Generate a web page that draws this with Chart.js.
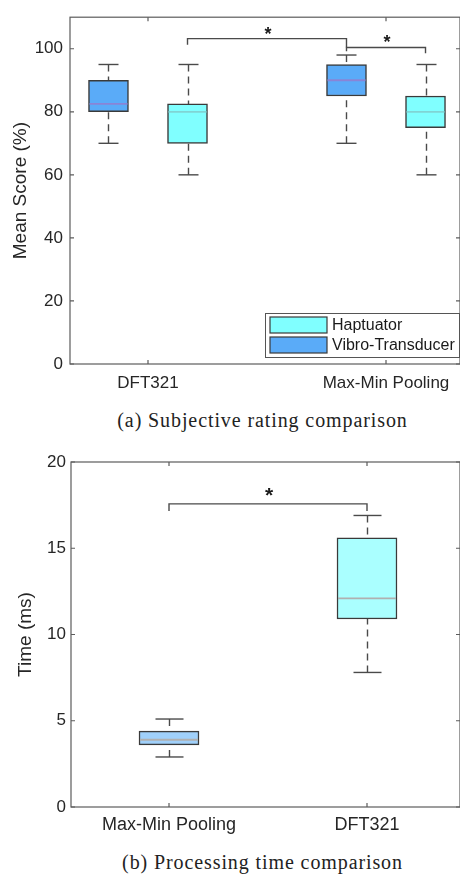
<!DOCTYPE html>
<html><head><meta charset="utf-8">
<script src="https://cdn.jsdelivr.net/npm/chart.js@4.4.1/dist/chart.umd.min.js"></script>
<style>
html,body{margin:0;padding:0;background:#fff;}
body{width:460px;height:875px;position:relative;overflow:hidden;}
.wrap{position:absolute;left:0;width:460px;}
.cap{position:absolute;left:0;width:525px;text-align:center;font-family:"Liberation Serif","Times New Roman",serif;font-size:20px;line-height:24px;color:#222;letter-spacing:0.9px;white-space:nowrap;}
</style></head>
<body>
<div class="wrap" style="top:0;height:400px"><canvas id="c1" width="460" height="400"></canvas></div>
<div class="cap" style="top:408px">(a) Subjective rating comparison</div>
<div class="wrap" style="top:440px;height:410px"><canvas id="c2" width="460" height="410"></canvas></div>
<div class="cap" style="top:850px">(b) Processing time comparison</div>
<script>
// ---------- data ----------
const ratingCategories = ['DFT321', 'Max-Min Pooling'];
const seriesNames = ['Haptuator', 'Vibro-Transducer'];
const hapLow = [60, 60];
const hapQ1 = [70, 75];
const hapMedian = [80, 80];
const hapQ3 = [82.5, 85];
const hapHigh = [95, 95];
const vibLow = [70, 70];
const vibQ1 = [80, 85];
const vibMedian = [82.5, 90];
const vibQ3 = [90, 95];
const vibHigh = [95, 98];
const ratingTicks = [0, 20, 40, 60, 80, 100];
// significance brackets: level and end drops (value units)
const ratingSigLevel = [103.2, 100.4];
const ratingSigDropA = [101.3, 99.2];
const ratingSigDropB = [100.4, 98.6];

const timeCategories = ['Max-Min Pooling', 'DFT321'];
const timeLow = [2.9, 7.8];
const timeQ1 = [3.6, 10.9];
const timeMedian = [3.9, 12.1];
const timeQ3 = [4.4, 15.6];
const timeHigh = [5.1, 16.9];
const timeTicks = [0, 5, 10, 15, 20];
const timeSigLevel = [17.57];
const timeSigDropA = [17.16];
const timeSigDropB = [17.16];

// ---------- style ----------
Chart.defaults.font.family = '"Liberation Sans", Arial, sans-serif';
Chart.defaults.color = '#262626';
const HAP = '#80FFFF', VIB = '#5AABF8';
const HAP_LIGHT = '#AAFFFF', VIB_LIGHT = '#A0D0FA';
const EDGE = '#3a3a3a';

// ---------- plugins ----------
const framePlugin = {
  id: 'frame',
  beforeDatasetsDraw(chart) {
    const {ctx, chartArea: a, scales: {x, y}} = chart;
    ctx.save();
    ctx.strokeStyle = '#5c5c5c'; ctx.lineWidth = 1.2;
    ctx.strokeRect(a.left, a.top, a.right - a.left, a.bottom - a.top);
    const t = 4;
    ctx.beginPath();
    x.ticks.forEach(tk => { const px = x.getPixelForValue(tk.value);
      ctx.moveTo(px, a.bottom); ctx.lineTo(px, a.bottom - t);
      ctx.moveTo(px, a.top); ctx.lineTo(px, a.top + t); });
    y.ticks.forEach(tk => { const py = y.getPixelForValue(tk.value);
      ctx.moveTo(a.left, py); ctx.lineTo(a.left + t, py);
      ctx.moveTo(a.right, py); ctx.lineTo(a.right - t, py); });
    ctx.stroke();
    ctx.restore();
  }
};

function seg(ctx, x1, y1, x2, y2) { ctx.beginPath(); ctx.moveTo(x1, y1); ctx.lineTo(x2, y2); ctx.stroke(); }

const boxPlugin = {
  id: 'boxExtras',
  beforeDatasetsDraw(chart) {
    const {ctx, scales: {y}} = chart;
    ctx.save();
    chart.data.datasets.forEach((ds, di) => {
      const meta = chart.getDatasetMeta(di);
      meta.data.forEach((bar, i) => {
        const cx = Math.round(bar.x) + 0.5;
        const yLow = y.getPixelForValue(ds.low[i]);
        const yHigh = y.getPixelForValue(ds.high[i]);
        const yQ1 = y.getPixelForValue(ds.data[i].y[0]);
        const yQ3 = y.getPixelForValue(ds.data[i].y[1]);
        ctx.strokeStyle = '#4a4a4a'; ctx.lineWidth = 1.4;
        ctx.setLineDash([7, 5]);
        seg(ctx, cx, yLow, cx, yQ1);
        seg(ctx, cx, yHigh, cx, yQ3);
        ctx.setLineDash([]);
        const hw = ds.capWidth / 2;
        seg(ctx, cx - hw, yLow, cx + hw, yLow);
        seg(ctx, cx - hw, yHigh, cx + hw, yHigh);
      });
    });
    ctx.restore();
  },
  afterDatasetsDraw(chart, args, opts) {
    const {ctx, chartArea: a, scales: {y}} = chart;
    ctx.save();
    // medians
    chart.data.datasets.forEach((ds, di) => {
      const meta = chart.getDatasetMeta(di);
      meta.data.forEach((bar, i) => {
        const ym = y.getPixelForValue(ds.median[i]);
        const hw = bar.width / 2 - 1;
        ctx.strokeStyle = ds.medianColor; ctx.lineWidth = 1.8;
        seg(ctx, bar.x - hw, ym, bar.x + hw, ym);
      });
    });
    // significance brackets
    (opts.brackets || []).forEach(b => {
      const pa = chart.getDatasetMeta(b.a[1]).data[b.a[0]].x;
      const pb = chart.getDatasetMeta(b.b[1]).data[b.b[0]].x;
      const yl = y.getPixelForValue(b.level);
      ctx.strokeStyle = '#4a4a4a'; ctx.lineWidth = 1.4;
      ctx.beginPath();
      ctx.moveTo(pa, y.getPixelForValue(b.dropA));
      ctx.lineTo(pa, yl); ctx.lineTo(pb, yl);
      ctx.lineTo(pb, y.getPixelForValue(b.dropB));
      ctx.stroke();
      ctx.fillStyle = '#1a1a1a';
      ctx.font = 'bold ' + b.starSize + 'px "Liberation Sans", Arial, sans-serif';
      ctx.textAlign = 'center'; ctx.textBaseline = 'alphabetic';
      ctx.fillText('*', (pa + pb) / 2 + 1, yl + b.starShift);
    });
    // legend
    if (opts.legend) {
      const w = 194, h = 44;
      const x0 = a.right - w - 1, y0 = a.bottom - h - 7;
      ctx.fillStyle = '#fff'; ctx.fillRect(x0, y0, w, h);
      ctx.strokeStyle = '#555'; ctx.lineWidth = 1;
      ctx.strokeRect(x0 + 0.5, y0 + 0.5, w, h);
      chart.data.datasets.forEach((ds, di) => {
        const sy = y0 + 4 + di * 20;
        ctx.fillStyle = ds.backgroundColor;
        ctx.fillRect(x0 + 5, sy, 57, 16);
        ctx.strokeStyle = EDGE; ctx.lineWidth = 1.2;
        ctx.strokeRect(x0 + 5, sy, 57, 16);
        ctx.fillStyle = '#1a1a1a';
        ctx.font = '16px "Liberation Sans", Arial, sans-serif';
        ctx.textAlign = 'left'; ctx.textBaseline = 'middle';
        ctx.fillText(ds.label, x0 + 67, sy + 8.5);
      });
    }
    ctx.restore();
  }
};

// ---------- chart 1 ----------
const groupOffset = 0.166;
const hapBoxes = ratingCategories.map((c, i) => ({x: i + 1 + groupOffset, y: [hapQ1[i], hapQ3[i]]}));
const vibBoxes = ratingCategories.map((c, i) => ({x: i + 1 - groupOffset, y: [vibQ1[i], vibQ3[i]]}));

new Chart(document.getElementById('c1'), {
  type: 'bar',
  data: {
    datasets: [
      {label: seriesNames[0], data: hapBoxes, low: hapLow, high: hapHigh, median: hapMedian,
       backgroundColor: HAP, borderColor: EDGE, borderWidth: 1.5, borderSkipped: false,
       barThickness: 40, medianColor: '#80D4D4', capWidth: 20},
      {label: seriesNames[1], data: vibBoxes, low: vibLow, high: vibHigh, median: vibMedian,
       backgroundColor: VIB, borderColor: EDGE, borderWidth: 1.5, borderSkipped: false,
       barThickness: 40, medianColor: '#8A84D6', capWidth: 20}
    ]
  },
  options: {
    responsive: false, animation: false, devicePixelRatio: 1,
    grouped: false,
    layout: {padding: {top: 11, right: 0, left: 0, bottom: 0}},
    plugins: {
      legend: {display: false}, tooltip: {enabled: false},
      boxExtras: {
        brackets: ratingSigLevel.map((lv, k) => ({
          a: [[0, 0], [1, 1]][k], b: [[1, 1], [1, 0]][k],
          level: lv, dropA: ratingSigDropA[k], dropB: ratingSigDropB[k],
          starSize: 18, starShift: 1
        })),
        legend: true
      }
    },
    scales: {
      x: {
        type: 'linear', min: 0.6723, max: 2.3109, offset: false,
        grid: {display: false, drawTicks: false}, border: {display: false},
        afterBuildTicks: s => { s.ticks = ratingCategories.map((c, i) => ({value: i + 1})); },
        afterFit: s => { s.height = 36; },
        ticks: {font: {size: 17}, padding: 9, maxRotation: 0,
          callback: v => ratingCategories[Math.round(v) - 1]}
      },
      y: {
        min: 0, max: 110,
        grid: {display: false, drawTicks: false}, border: {display: false},
        afterBuildTicks: s => { s.ticks = ratingTicks.map(v => ({value: v})); },
        afterFit: s => { s.width = 70; },
        ticks: {font: {size: 17}, padding: 7},
        title: {display: true, text: 'Mean Score (%)', font: {size: 19}, padding: {top: 9, bottom: 0}}
      }
    }
  },
  plugins: [framePlugin, boxPlugin]
});

// ---------- chart 2 ----------
const timeBoxes = timeCategories.map((c, i) => ({x: i + 1, y: [timeQ1[i], timeQ3[i]]}));
new Chart(document.getElementById('c2'), {
  type: 'bar',
  data: {
    datasets: [
      {label: 'Time', data: timeBoxes, low: timeLow, high: timeHigh, median: timeMedian,
       backgroundColor: [VIB_LIGHT, HAP_LIGHT], borderColor: EDGE, borderWidth: 1.5, borderSkipped: false,
       barThickness: 60, medianColor: '#B0B0B0', capWidth: 28}
    ]
  },
  options: {
    responsive: false, animation: false, devicePixelRatio: 1,
    grouped: false,
    layout: {padding: {top: 22, right: 0, left: 0, bottom: 0}},
    plugins: {
      legend: {display: false}, tooltip: {enabled: false},
      boxExtras: {
        brackets: timeSigLevel.map((lv, k) => ({
          a: [0, 0], b: [1, 0], level: lv, dropA: timeSigDropA[k], dropB: timeSigDropB[k],
          starSize: 21, starShift: -2
        })),
        legend: false
      }
    },
    scales: {
      x: {
        type: 'linear', min: 0.505, max: 2.4697, offset: false,
        grid: {display: false, drawTicks: false}, border: {display: false},
        afterBuildTicks: s => { s.ticks = timeCategories.map((c, i) => ({value: i + 1})); },
        afterFit: s => { s.height = 43; },
        ticks: {font: {size: 18}, padding: 7, maxRotation: 0,
          callback: v => timeCategories[Math.round(v) - 1]}
      },
      y: {
        min: 0, max: 20,
        grid: {display: false, drawTicks: false}, border: {display: false},
        afterBuildTicks: s => { s.ticks = timeTicks.map(v => ({value: v})); },
        afterFit: s => { s.width = 71; },
        ticks: {font: {size: 17}, padding: 5},
        title: {display: true, text: 'Time (ms)', font: {size: 19}, padding: {top: 14, bottom: 0}}
      }
    }
  },
  plugins: [framePlugin, boxPlugin]
});
</script>
</body></html>
